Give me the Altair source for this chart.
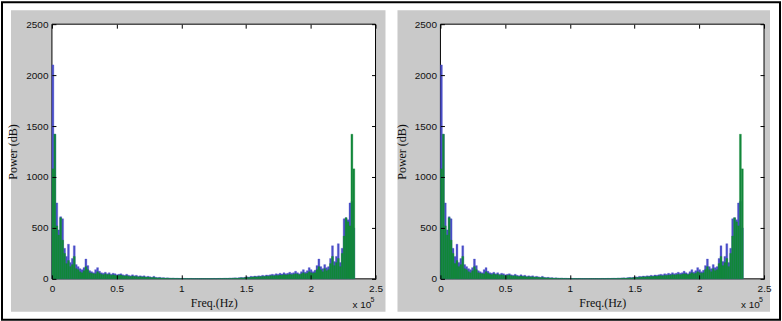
import altair as alt
import pandas as pd

# ---------------- data ----------------
FREQ_STEP = 1500  # Hz per spectral bin

BLUE = [
    2100, 1420, 745, 480, 610, 590, 300, 220, 340, 160,
    200, 325, 140, 120, 100, 90, 110, 195, 130, 80,
    70, 60, 90, 110, 75, 60, 55, 65, 50, 60,
    45, 55, 50, 40, 45, 50, 40, 35, 45, 35,
    30, 40, 30, 35, 25, 30, 25, 30, 20, 25,
    20, 15, 25, 15, 12, 15, 10, 12, 8, 10,
    8, 6, 8, 5, 6, 5, 4, 5, 4, 4,
    3, 4, 3, 3, 3, 2, 3, 2, 2, 3,
    2, 3, 3, 4, 3, 4, 5, 4, 5, 6,
    5, 8, 7, 9, 10, 8, 12, 14, 12, 16,
    20, 18, 25, 22, 28, 25, 30, 28, 35, 30,
    38, 35, 40, 45, 40, 50, 45, 55, 48, 60,
    50, 55, 65, 55, 60, 75, 60, 50, 70, 90,
    65, 80, 110, 90, 70, 85, 130, 195, 120, 100,
    140, 110, 120, 200, 325, 170, 220, 345, 160, 300,
    590, 600, 580, 745, 760, 500,
]

GREEN = [
    1080, 1420, 520, 430, 600, 380, 250, 150, 180, 120,
    140, 220, 100, 90, 70, 60, 80, 120, 90, 60,
    55, 50, 50, 70, 55, 45, 40, 50, 40, 45,
    35, 40, 35, 30, 35, 38, 30, 28, 32, 25,
    22, 28, 22, 25, 18, 22, 18, 20, 15, 18,
    14, 12, 15, 10, 9, 10, 8, 8, 6, 7,
    5, 5, 5, 4, 4, 3, 3, 3, 3, 3,
    2, 3, 2, 2, 2, 2, 2, 2, 2, 2,
    2, 2, 2, 3, 2, 3, 3, 3, 4, 4,
    4, 5, 5, 6, 7, 6, 8, 10, 9, 12,
    14, 13, 16, 18, 20, 18, 22, 20, 25, 22,
    28, 25, 30, 32, 28, 35, 32, 38, 35, 42,
    38, 40, 45, 40, 45, 50, 48, 40, 50, 60,
    50, 55, 70, 60, 55, 60, 90, 120, 90, 70,
    100, 80, 90, 150, 220, 130, 160, 200, 120, 250,
    420, 600, 560, 520, 1420, 1080,
]

X_TICKS = [0, 50000, 100000, 150000, 200000, 250000]
Y_TICKS = [0, 500, 1000, 1500, 2000, 2500]
X_TITLE = "Freq.(Hz)"
Y_TITLE = "Power (dB)"
EXP_BASE = "x 10"
EXP_POW = "5"

# ---------------- styling ----------------
W, H = 324, 255
BLUE_C = "#4a4ec8"
GREEN_C = "#12873a"
GREY = "#c9c9c9"
SANS = "Liberation Sans"
SERIF = "Liberation Serif"

df = pd.DataFrame({
    "f0": [i * FREQ_STEP for i in range(len(BLUE))],
    "f1": [(i + 1) * FREQ_STEP for i in range(len(BLUE))],
    "blue": BLUE,
    "green": GREEN,
})
one = pd.DataFrame({"base": [EXP_BASE], "pow": [EXP_POW]})

xs = alt.Scale(domain=[0, 250000], nice=False, zero=False)
ys = alt.Scale(domain=[0, 2500], nice=False)

common_axis = dict(
    domain=False, grid=False, tickSize=4, tickColor="black", tickWidth=1,
    offset=-4, zindex=1, labelFlush=False, labelOverlap=False,
    labelFont=SANS, labelFontSize=10, labelColor="#111111",
)

x_bottom = alt.Axis(orient="bottom", values=X_TICKS, labelExpr="datum.value / 100000",
                    labelPadding=5, title=X_TITLE, titleFont=SERIF, titleFontSize=12,
                    titleFontWeight="normal", titleColor="#111111", titlePadding=4,
                    **common_axis)
y_left = alt.Axis(orient="left", values=Y_TICKS, format="d", labelPadding=4,
                  title=Y_TITLE, titleFont=SERIF, titleFontSize=12,
                  titleFontWeight="normal", titleColor="#111111", titlePadding=6,
                  **common_axis)
x_top = alt.Axis(orient="top", values=X_TICKS, labels=False, title="", **common_axis)
y_right = alt.Axis(orient="right", values=Y_TICKS, labels=False, title="", **common_axis)


def panel(gx0, gx1, frame=False):
    layers = []
    if frame:
        layers.append(alt.Chart(one).mark_rect(fill="white", fillOpacity=0, stroke="black",
                                               strokeWidth=2).encode(
            x=alt.value(-50), x2=alt.value(729), y=alt.value(-22), y2=alt.value(296)))
    layers.append(alt.Chart(one).mark_rect(color=GREY).encode(
        x=alt.value(gx0), x2=alt.value(gx1), y=alt.value(-14), y2=alt.value(288)))
    layers.append(alt.Chart(one).mark_rect(fill="white", stroke="black", strokeWidth=1).encode(
        x=alt.value(0), x2=alt.value(W), y=alt.value(0), y2=alt.value(H)))
    layers.append(alt.Chart(df).mark_rect(color=BLUE_C, stroke=BLUE_C, strokeWidth=0.3).encode(
        x=alt.X("f0:Q", scale=xs, axis=x_bottom), x2="f1:Q",
        y=alt.Y("blue:Q", scale=ys, axis=y_left), y2=alt.datum(0)))
    layers.append(alt.Chart(df).mark_rect(color=GREEN_C, stroke=GREEN_C, strokeWidth=0.3).encode(
        x=alt.X("f0:Q", scale=xs, axis=x_top), x2="f1:Q",
        y=alt.Y("green:Q", scale=ys, axis=y_right), y2=alt.datum(0)))
    layers.append(alt.Chart(one).mark_text(font=SANS, fontSize=10, align="left",
                                           baseline="middle", color="#111111").encode(
        x=alt.value(301), y=alt.value(281), text="base:N"))
    layers.append(alt.Chart(one).mark_text(font=SANS, fontSize=7, align="left",
                                           baseline="middle", color="#111111").encode(
        x=alt.value(319), y=alt.value(276), text="pow:N"))
    return alt.layer(*layers).properties(width=W, height=H)


left = panel(-41, 334, frame=True)
right = panel(-43, 330)

chart = alt.hconcat(left, right, spacing=65, bounds="flush").properties(
    padding=0, background="white"
).configure_view(stroke="transparent")

chart.save("out.html", embed_options={"renderer": "svg", "actions": False})
